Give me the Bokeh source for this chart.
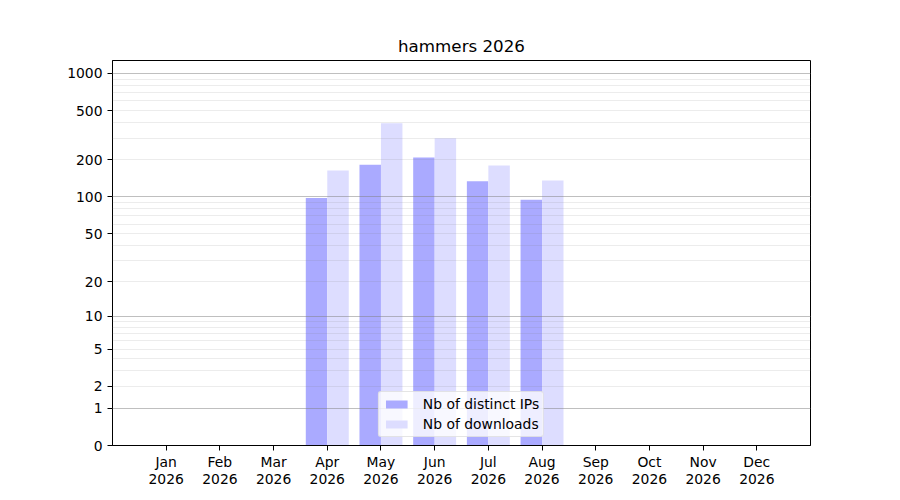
import numpy as np
from bokeh.plotting import figure
from bokeh.models import (Range1d, FixedTicker, CustomJSTickFormatter, Grid,
                          Legend, LegendItem, ColumnDataSource)
from bokeh.transform import dodge
from bokeh.embed import file_html
from bokeh.resources import INLINE

months = ["Jan", "Feb", "Mar", "Apr", "May", "Jun", "Jul", "Aug", "Sep", "Oct", "Nov", "Dec"]
year = "2026"
distinct_ips = [0, 0, 0, 98, 183, 209, 134, 95, 0, 0, 0, 0]
downloads = [0, 0, 0, 164, 396, 300, 180, 136, 0, 0, 0, 0]
y_tick_values = [0, 1, 2, 5, 10, 20, 50, 100, 200, 500, 1000]
y_major_grid = [1, 10, 100, 1000]
y_minor_grid = [m * 10 ** k for k in range(3) for m in range(2, 10)]
y_max = 1273

FONT = "DejaVu Sans"


def tr(v):
    # log10(1 + v) scale, as in the reference's y axis
    return np.log10(1 + np.asarray(v, dtype=float))


idx = list(range(len(months)))
src = ColumnDataSource(data=dict(x=idx, ips=tr(distinct_ips), dl=tr(downloads)))

p = figure(frame_width=698, frame_height=385, output_backend="svg", toolbar_location=None,
           x_range=Range1d(-1, len(months)), y_range=Range1d(0, float(tr(y_max))),
           title="hammers " + year,
           min_border_left=112, min_border_right=74, min_border_top=60, min_border_bottom=39)

p.title.text_font = FONT
p.title.text_font_size = "16.7px"
p.title.text_font_style = "normal"
p.title.text_color = "black"
p.title.align = "center"
p.title.standoff = 9

p.outline_line_color = "black"
p.outline_line_width = 1
p.outline_line_alpha = 1
p.background_fill_color = "white"
p.border_fill_color = "white"

# remove default grids
p.xgrid.visible = False
p.ygrid.visible = False

# axes
xa = p.xaxis[0]
xa.ticker = FixedTicker(ticks=idx, minor_ticks=[])
xa.major_label_overrides = {i: f"{m}\n{year}" for i, m in enumerate(months)}
ya = p.yaxis[0]
ya.ticker = FixedTicker(ticks=[float(t) for t in tr(y_tick_values)], minor_ticks=[])
ya.formatter = CustomJSTickFormatter(code="return String(Math.round(Math.pow(10, tick) - 1));")
for ax in (xa, ya):
    ax.major_label_text_font = FONT
    ax.major_label_text_font_size = "13.9px"
    ax.major_label_text_color = "black"
    ax.major_tick_out = 5
    ax.major_tick_in = 0
    ax.minor_tick_out = 0
    ax.minor_tick_in = 0
    ax.major_label_standoff = 5
    ax.axis_line_color = "black"
    ax.major_tick_line_color = "black"
xa.major_label_standoff = 3
xa.major_label_text_line_height = 1.1

# grids drawn over bars like the reference
gmin = Grid(dimension=1, ticker=FixedTicker(ticks=[float(t) for t in tr(y_minor_grid)], minor_ticks=[]),
            grid_line_color="gray", grid_line_alpha=0.15, grid_line_width=1, level="annotation")
gmaj = Grid(dimension=1, ticker=FixedTicker(ticks=[float(t) for t in tr(y_major_grid)], minor_ticks=[]),
            grid_line_color="gray", grid_line_alpha=0.5, grid_line_width=1, level="annotation")
p.add_layout(gmin, "center")
p.add_layout(gmaj, "center")

r1 = p.vbar(x=dodge("x", -0.2, range=p.x_range), top="ips", bottom=0, width=0.4,
            source=src, fill_color="#aaaaff", line_color=None)
r2 = p.vbar(x=dodge("x", 0.2, range=p.x_range), top="dl", bottom=0, width=0.4,
            source=src, fill_color="#ddddff", line_color=None)

legend = Legend(items=[LegendItem(label="Nb of distinct IPs", renderers=[r1]),
                       LegendItem(label="Nb of downloads", renderers=[r2])],
                location="bottom_center")
legend.label_text_font = FONT
legend.label_text_font_size = "13.9px"
legend.label_text_color = "black"
legend.glyph_width = 27
legend.glyph_height = 10
legend.label_height = 16
legend.label_standoff = 13
legend.spacing = 4
legend.padding = 4
legend.margin = 8
legend.border_line_color = "#cccccc"
legend.border_line_width = 1
legend.border_radius = 3
legend.background_fill_color = "white"
legend.background_fill_alpha = 0.8
p.add_layout(legend, "center")

open("out.html", "w").write(file_html(p, INLINE))
